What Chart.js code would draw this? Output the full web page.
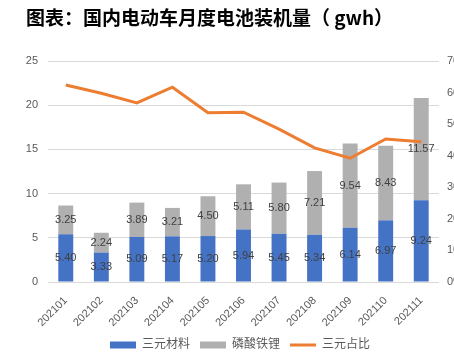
<!DOCTYPE html>
<html><head><meta charset="utf-8">
<script src="https://cdn.jsdelivr.net/npm/chart.js@4/dist/chart.umd.min.js"></script>
<style>
html,body{margin:0;padding:0;background:#fff;overflow:hidden;width:454px;height:356px;}
#title{position:absolute;left:26px;top:3px;font-family:'Noto Sans CJK SC',sans-serif;font-weight:bold;font-size:19px;color:#000;white-space:nowrap;}
#wrap{position:absolute;left:0;top:0;width:480px;height:361px;}
</style></head>
<body>
<div id="wrap"><canvas id="c" width="480" height="361"></canvas></div>
<div id="title">图表：国内电动车月度电池装机量（ gwh）</div>
<script>
const categories = ['202101','202102','202103','202104','202105','202106','202107','202108','202109','202110','202111'];
const ternary = [5.40, 3.33, 5.09, 5.17, 5.20, 5.94, 5.45, 5.34, 6.14, 6.97, 9.24];
const lfp = [3.25, 2.24, 3.89, 3.21, 4.50, 5.11, 5.80, 7.21, 9.54, 8.43, 11.57];
const ternaryShare = [62.4, 59.8, 56.7, 61.7, 53.6, 53.8, 48.4, 42.5, 39.2, 45.3, 44.4];
const seriesNames = ['三元材料', '磷酸铁锂', '三元占比'];

const FONT = "'Liberation Sans','Noto Sans CJK SC',sans-serif";

const labelPlugin = {
  id: 'barLabels',
  afterDatasetsDraw(chart) {
    const ctx = chart.ctx;
    ctx.save();
    ctx.font = "11px " + FONT;
    ctx.fillStyle = '#404040';
    ctx.textAlign = 'center';
    ctx.textBaseline = 'middle';
    [0, 1].forEach(di => {
      const meta = chart.getDatasetMeta(di);
      const data = chart.data.datasets[di].data;
      meta.data.forEach((el, i) => {
        const p = el.getProps(['x', 'y', 'base'], true);
        ctx.fillText(data[i].toFixed(2), p.x, (p.y + p.base) / 2);
      });
    });
    ctx.restore();
  }
};

new Chart(document.getElementById('c'), {
  data: {
    labels: categories,
    datasets: [
      { type: 'bar', label: seriesNames[0], data: ternary, backgroundColor: '#4472C4', yAxisID: 'y', stack: 's', order: 2, pointStyle: 'rect', barPercentage: 0.42, categoryPercentage: 1 },
      { type: 'bar', label: seriesNames[1], data: lfp, backgroundColor: '#B0B0B0', yAxisID: 'y', stack: 's', order: 2, pointStyle: 'rect', barPercentage: 0.42, categoryPercentage: 1 },
      { type: 'line', label: seriesNames[2], data: ternaryShare, borderColor: '#ED7D31', backgroundColor: '#ED7D31', borderWidth: 3, pointRadius: 0, pointHoverRadius: 0, pointStyle: 'line', tension: 0, yAxisID: 'y1', order: 1 }
    ]
  },
  options: {
    responsive: false,
    animation: false,
    layout: { padding: { top: 61, left: 0, right: 0, bottom: 0 } },
    plugins: {
      tooltip: { enabled: false },
      legend: {
        position: 'bottom',
        labels: {
          usePointStyle: true,
          pointStyleWidth: 26,
          boxHeight: 7,
          color: '#595959',
          font: { family: FONT, size: 12 },
          padding: 10,
          sort: (a, b) => a.datasetIndex - b.datasetIndex
        }
      }
    },
    scales: {
      x: {
        stacked: true,
        grid: { display: false },
        border: { display: false },
        ticks: { color: '#595959', font: { family: FONT, size: 11 }, minRotation: 45, maxRotation: 45, padding: 4 },
        afterFit(s) { s.height = 47; }
      },
      y: {
        stacked: true,
        position: 'left',
        min: 0, max: 25,
        ticks: { stepSize: 5, color: '#595959', font: { family: FONT, size: 11 }, padding: 10 },
        grid: { color: '#D9D9D9', drawTicks: false },
        border: { display: false },
        afterFit(s) { s.width = 48; }
      },
      y1: {
        position: 'right',
        min: 0, max: 70,
        ticks: { stepSize: 10, color: '#595959', font: { family: FONT, size: 11 }, padding: 8, callback: v => v + '%' },
        grid: { display: false, drawTicks: false },
        border: { display: false },
        afterFit(s) { s.width = 41; }
      }
    }
  },
  plugins: [labelPlugin]
});
</script>
</body></html>
